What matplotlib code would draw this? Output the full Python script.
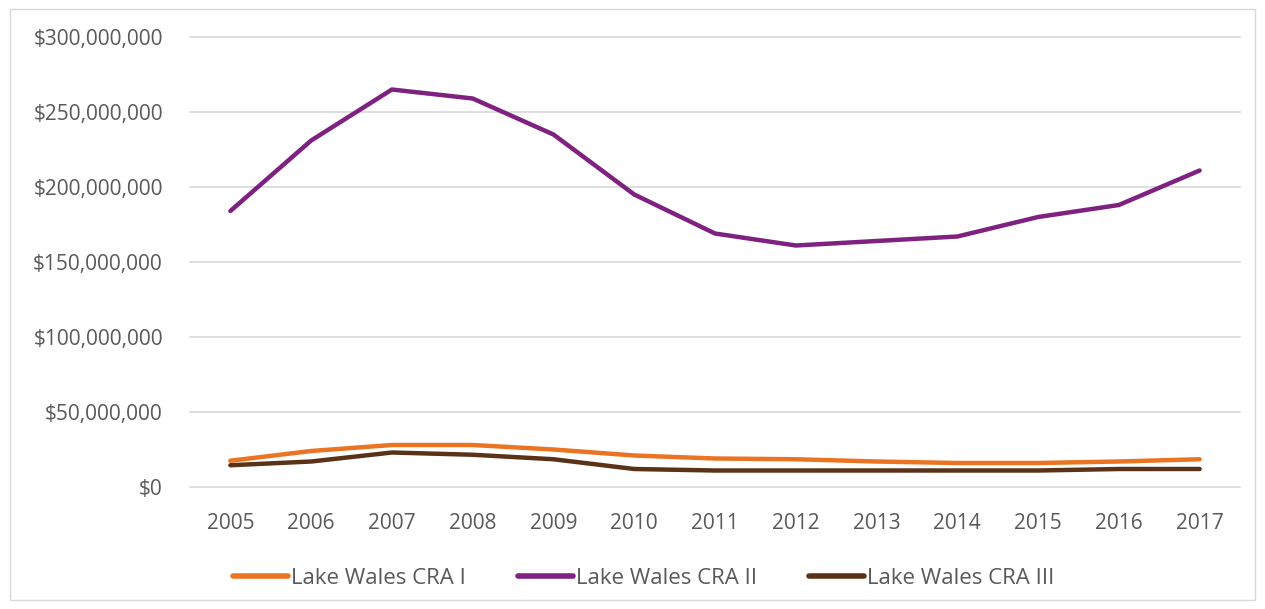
import matplotlib
matplotlib.use("Agg")
import matplotlib.pyplot as plt
from matplotlib.ticker import FuncFormatter
from matplotlib.patches import Rectangle

years = [2005, 2006, 2007, 2008, 2009, 2010, 2011, 2012, 2013, 2014, 2015, 2016, 2017]
cra1 = [17.5, 24, 28, 28, 25, 21, 19, 18.5, 17, 16, 16, 17, 18.5]
cra2 = [184, 231, 265, 259, 235, 195, 169, 161, 164, 167, 180, 188, 211]
cra3 = [14.5, 17, 23, 21.5, 18.5, 12, 11, 11, 11, 11, 11, 12, 12]
series_names = ["Lake Wales CRA I", "Lake Wales CRA II", "Lake Wales CRA III"]
colors = ["#EB7423", "#7E2180", "#5A3218"]

fig = plt.figure(figsize=(12.65, 6.09), dpi=100)
fig.patches.append(Rectangle((10/1265, 9/609), 1245/1265, 591/609, transform=fig.transFigure,
                             fill=False, edgecolor="#D9D9D9", linewidth=1))
ax = fig.add_axes([190/1265, (609-487)/609, 1050/1265, 450/609])

for vals, name, c in zip([cra1, cra2, cra3], series_names, colors):
    ax.plot(years, [v * 1e6 for v in vals], color=c, linewidth=3.2, label=name,
            solid_capstyle="round", solid_joinstyle="round", zorder=3)

ax.set_xlim(2004.5, 2017.5)
ax.set_ylim(0, 300e6)
ax.set_yticks([i * 50e6 for i in range(7)])
ax.set_xticks(years)
ax.yaxis.set_major_formatter(FuncFormatter(lambda v, p: "${:,.0f}".format(v)))
ax.grid(axis="y", color="#D9D9D9", linewidth=1.2)
for gl in ax.get_ygridlines():
    gl.set_clip_on(False)
ax.set_axisbelow(True)
for s in ax.spines.values():
    s.set_visible(False)
ax.tick_params(axis="both", length=0, colors="#595959", labelsize=15)
ax.tick_params(axis="y", pad=19.5)
ax.tick_params(axis="x", pad=19)
for lbl in ax.get_xticklabels() + ax.get_yticklabels():
    lbl.set_fontfamily(["Open Sans", "DejaVu Sans"])

leg = fig.legend(loc="center", bbox_to_anchor=(644/1265, 1 - 578/609), ncol=3, frameon=False,
                 handlelength=2.45, handletextpad=0.15, columnspacing=2.35,
                 prop={"family": ["Open Sans", "DejaVu Sans"], "size": 16})
for t in leg.get_texts():
    t.set_color("#595959")
for h in leg.get_lines():
    h.set_linewidth(4)
    h.set_solid_capstyle("round")

fig.savefig("out.png", dpi=100, facecolor="white")
